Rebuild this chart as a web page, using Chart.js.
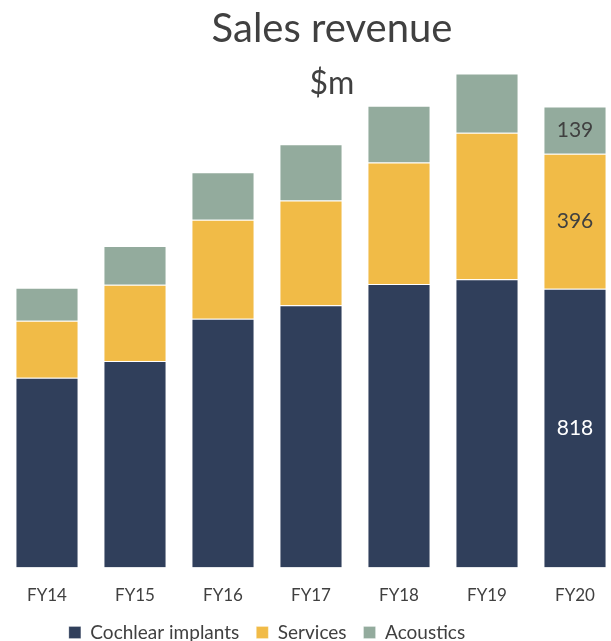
<!DOCTYPE html>
<html>
<head>
<meta charset="utf-8">
<title>Sales revenue</title>
<script src="https://cdn.jsdelivr.net/npm/chart.js@4.4.1/dist/chart.umd.min.js"></script>
<style>
    html, body { margin: 0; padding: 0; overflow: hidden; background: #fff; }
    #wrap { width: 611px; height: 641px; overflow: hidden; position: relative; }
    #chartSales { display: block; }
</style>
</head>
<body>
<div id="wrap">
    <canvas id="chartSales" width="624" height="670" style="width:624px;height:670px"></canvas>
</div>
<script>
var years = ["FY14", "FY15", "FY16", "FY17", "FY18", "FY19", "FY20"];
var cochlearImplants = [557, 606, 730, 770, 832, 846, 818];
var services = [167, 224, 291, 307, 357, 430, 396];
var acoustics = [97, 114, 139, 165, 166, 174, 139];

var textColor = "#404040";
var fontFamily = "Lato, 'Liberation Sans', sans-serif";

// title and legend are not centred on the same x in the original,
// and the legend sits closer to the axis labels than chart.js puts it
var titleShift = 21;
var legendShiftX = -44;
var legendShiftY = -18;

var shiftBoxes = {
    id: 'shiftBoxes',
    afterLayout: function (chart) {
        chart.boxes.forEach(function (box) {
            if (box === chart.legend) {
                box.left += legendShiftX;
                box.right += legendShiftX;
                box.top += legendShiftY;
                box.bottom += legendShiftY;
            } else if (box.options && box.options.text !== undefined && box.options.position === 'top') {
                box.left += titleShift;
                box.right += titleShift;
            }
        });
    }
};

// values only on the last bar, like the source chart
var lastBarLabels = {
    id: 'lastBarLabels',
    afterDatasetsDraw: function (chart) {
        var ctx = chart.ctx;
        var last = years.length - 1;
        var colors = ["#ffffff", textColor, textColor];
        ctx.save();
        ctx.font = "21px " + fontFamily;
        ctx.textAlign = "center";
        ctx.textBaseline = "middle";
        chart.data.datasets.forEach(function (ds, i) {
            var bar = chart.getDatasetMeta(i).data[last];
            ctx.fillStyle = colors[i];
            ctx.fillText(String(ds.data[last]), bar.x, (bar.y + bar.base) / 2);
        });
        ctx.restore();
    }
};

var ctx = document.getElementById("chartSales").getContext("2d");

var salesChart = new Chart(ctx, {
    type: 'bar',
    data: {
        labels: years,
        datasets: [{
            label: "Cochlear implants",
            data: cochlearImplants,
            backgroundColor: "#303f5b",
            borderColor: "rgba(255,255,255,0.25)",
            borderWidth: 1
        }, {
            label: "Services",
            data: services,
            backgroundColor: "#f1bb47",
            borderColor: "rgba(255,255,255,0.25)",
            borderWidth: 1
        }, {
            label: "Acoustics",
            data: acoustics,
            backgroundColor: "#93ab9d",
            borderColor: "rgba(255,255,255,0.25)",
            borderWidth: 1
        }]
    },
    options: {
        responsive: false,
        maintainAspectRatio: false,
        animation: false,
        layout: {
            padding: { left: 3, right: 5, top: 0, bottom: 0 }
        },
        datasets: {
            bar: {
                barPercentage: 0.717,
                categoryPercentage: 1.0
            }
        },
        scales: {
            x: {
                stacked: true,
                grid: { display: false, drawTicks: false },
                border: { display: false },
                ticks: {
                    color: textColor,
                    padding: 18,
                    font: { family: fontFamily, size: 17 }
                }
            },
            y: {
                stacked: true,
                display: false,
                min: 0,
                max: 1500
            }
        },
        plugins: {
            title: {
                display: true,
                text: "Sales revenue",
                color: textColor,
                font: { family: fontFamily, size: 40, weight: 'normal' },
                padding: { top: 5, bottom: 0 }
            },
            subtitle: {
                display: true,
                text: "$m",
                color: textColor,
                font: { family: fontFamily, size: 32, weight: 'normal' },
                padding: { top: 11, bottom: -46 }
            },
            legend: {
                display: true,
                position: 'bottom',
                labels: {
                    color: textColor,
                    boxWidth: 12,
                    boxHeight: 12,
                    padding: 17,
                    font: { family: fontFamily, size: 19 }
                }
            },
            tooltip: { enabled: false }
        }
    },
    plugins: [shiftBoxes, lastBarLabels]
});
</script>
</body>
</html>
